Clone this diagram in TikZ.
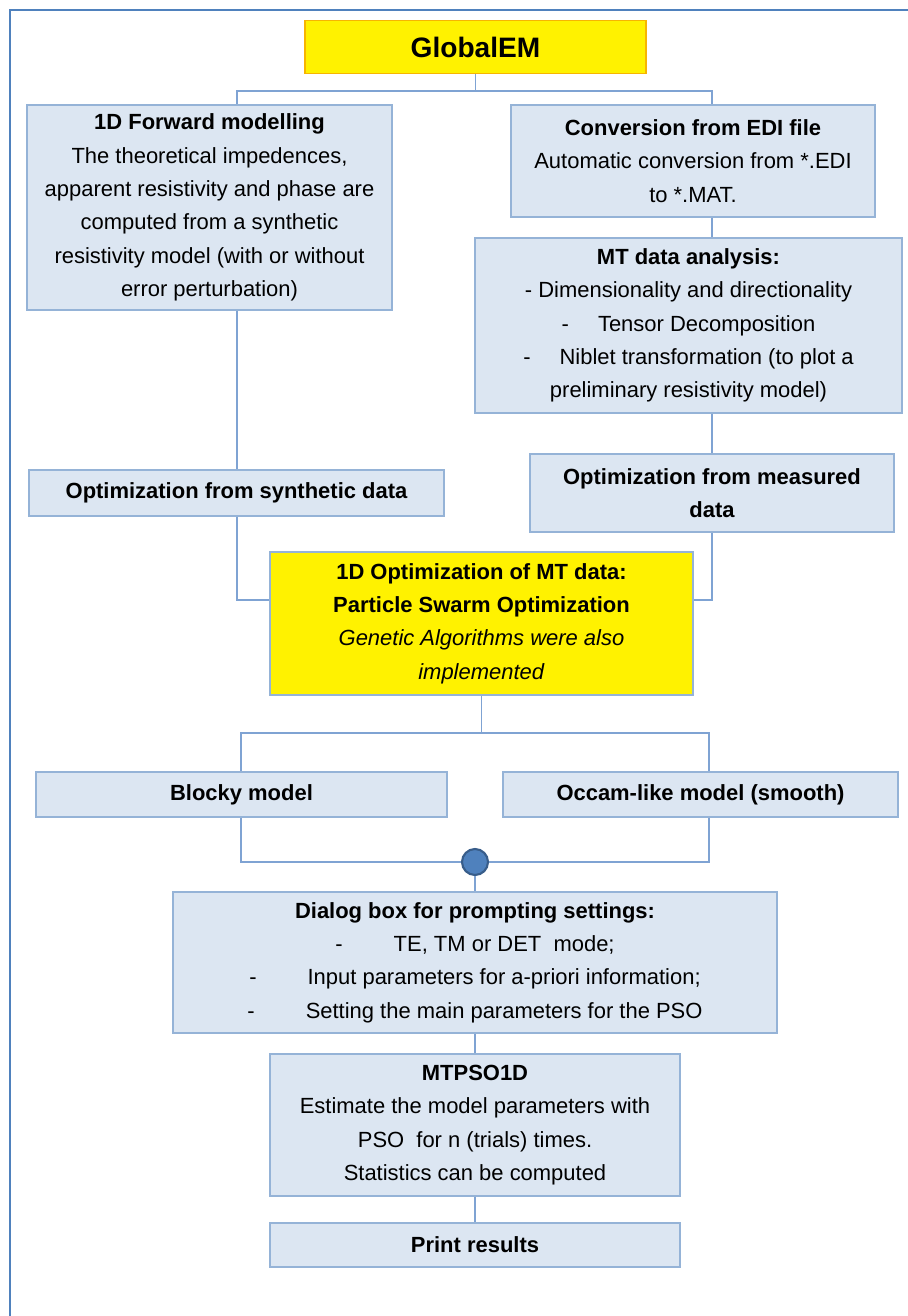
\documentclass[tikz,border=0pt]{standalone}
\usepackage{fontspec}
\setmainfont{Liberation Sans}
\usetikzlibrary{calc}
\definecolor{BoxFill}{HTML}{DCE6F2}
\definecolor{BoxLine}{HTML}{95B3D7}
\definecolor{LinkClr}{HTML}{7FA3D3}
\definecolor{FrameClr}{HTML}{4F81BD}
\definecolor{DotLine}{HTML}{385D8A}
\definecolor{GemLine}{HTML}{F7B500}

\begin{document}
\begin{tikzpicture}[x=0.02cm,y=-0.02cm,
  box/.style={draw=BoxLine,line width=0.9pt,fill=BoxFill,align=center,inner sep=0pt,
    font=\fontsize{12.5}{19}\selectfont},
  hot/.style={box,fill=yellow},
  link/.style={draw=LinkClr,line width=0.9pt}]
\useasboundingbox (0,0) rectangle (907,1316);
\draw[FrameClr,line width=1.4pt] (10,1320) -- (10,10) -- (910,10);

\node[hot,draw=GemLine,minimum width=6.82cm,minimum height=1.06cm,font=\fontsize{16}{19}\selectfont\bfseries]
  (gem) at (475.5,47) {GlobalEM};
\node[box,minimum width=7.30cm,minimum height=4.10cm] (fwd) at (209.5,207.5)
  {\textbf{1D Forward modelling}\\The theoretical impedences,\\apparent resistivity and phase are\\
   computed from a synthetic\\resistivity model (with or without\\error perturbation)};
\node[box,minimum width=7.28cm,minimum height=2.24cm] (conv) at (693,161)
  {\textbf{Conversion from EDI file}\\Automatic conversion from *.EDI\\to *.MAT.};
\node[box,minimum width=8.54cm,minimum height=3.50cm] (mt) at (688.5,325.5)
  {\textbf{MT data analysis:}\\- Dimensionality and directionality\\
   -\hspace{0.58cm}Tensor Decomposition\\-\hspace{0.58cm}Niblet transformation (to plot a\\
   preliminary resistivity model)};
\node[box,minimum width=8.30cm,minimum height=0.92cm,font=\fontsize{12.5}{19}\selectfont\bfseries]
  (synth) at (236.5,493) {Optimization from synthetic data};
\node[box,minimum width=7.28cm,minimum height=1.56cm,font=\fontsize{12.5}{19}\selectfont\bfseries]
  (meas) at (712,493) {Optimization from measured\\data};
\node[hot,minimum width=8.46cm,minimum height=2.86cm] (pso) at (481.5,623.5)
  {\textbf{1D Optimization of MT data:}\\\textbf{Particle Swarm Optimization}\\
   \textit{Genetic Algorithms were also}\\\textit{implemented}};
\node[box,minimum width=8.22cm,minimum height=0.90cm,font=\fontsize{12.5}{19}\selectfont\bfseries]
  (blocky) at (241.5,794.5) {Blocky model};
\node[box,minimum width=7.90cm,minimum height=0.90cm,font=\fontsize{12.5}{19}\selectfont\bfseries]
  (occam) at (700.5,794.5) {Occam-like model (smooth)};
\node[box,minimum width=12.08cm,minimum height=2.82cm] (dialog) at (475,962.5)
  {\textbf{Dialog box for prompting settings:}\\-\hspace{1.02cm}TE, TM or DET\ \ mode;\\
   -\hspace{1.02cm}Input parameters for a-priori information;\\
   -\hspace{1.02cm}Setting the main parameters for the PSO};
\node[box,minimum width=8.20cm,minimum height=2.84cm] (mtpso) at (475,1125)
  {\textbf{MTPSO1D}\\Estimate the model parameters with\\PSO\ \ for n (trials) times.\\
   Statistics can be computed};
\node[box,minimum width=8.20cm,minimum height=0.88cm,font=\fontsize{12.5}{19}\selectfont\bfseries]
  (print) at (475,1245) {Print results};
\node[circle,draw=DotLine,line width=1.2pt,fill=FrameClr,minimum size=0.52cm,inner sep=0pt]
  (dot) at (475,862) {};

\coordinate (cL) at (237,0);
\coordinate (cR) at (712,0);
\coordinate (bL) at (241,0);
\coordinate (bR) at (709,0);
\coordinate (s1) at (0,91);
\coordinate (s2) at (0,600);
\coordinate (s3) at (0,733);

\draw[link] (gem.south) -- (gem.south |- s1) -| (fwd.north -| cL);
\draw[link] (gem.south |- s1) -| (conv.north -| cR);
\draw[link] (conv.south -| cR) -- (mt.north -| cR);
\draw[link] (fwd.south -| cL) -- (synth.north -| cL);
\draw[link] (mt.south -| cR) -- (meas.north -| cR);
\draw[link] (synth.south -| cL) |- (pso.west |- s2);
\draw[link] (meas.south -| cR) |- (pso.east |- s2);
\draw[link] (pso.south) -- (pso.south |- s3) -| (blocky.north -| bL);
\draw[link] (pso.south |- s3) -| (occam.north -| bR);
\draw[link] (blocky.south -| bL) |- (dot.west);
\draw[link] (occam.south -| bR) |- (dot.east);
\draw[link] (dot) -- (dialog);
\draw[link] (dialog) -- (mtpso);
\draw[link] (mtpso) -- (print);

\end{tikzpicture}
\end{document}
